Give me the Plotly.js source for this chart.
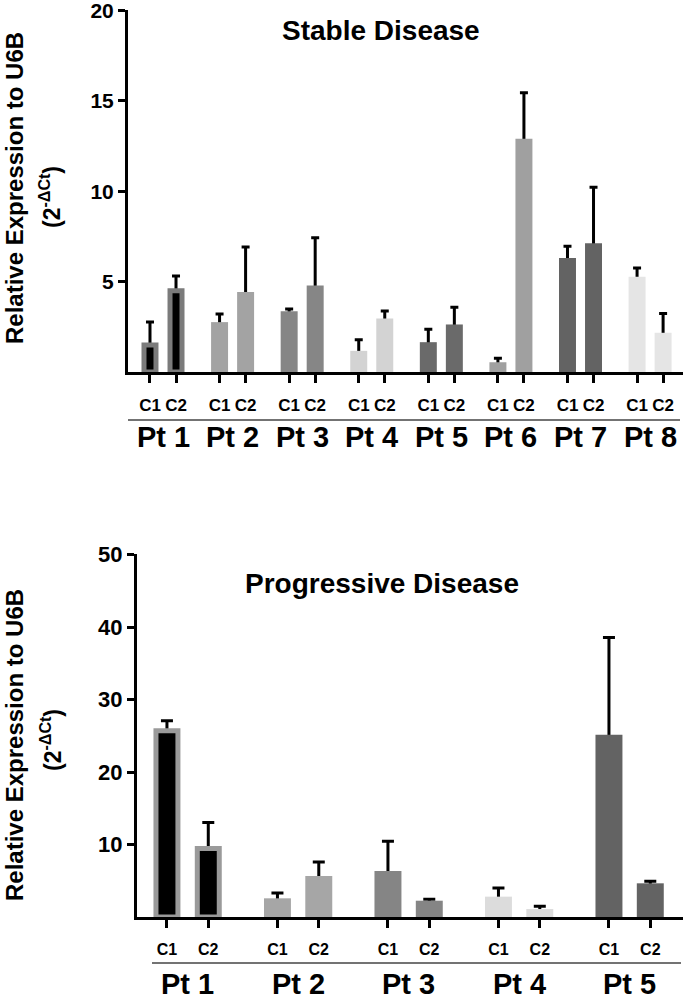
<!DOCTYPE html>
<html>
<head>
<meta charset="utf-8">
<script src="https://cdn.plot.ly/plotly-3.0.1.min.js"></script>
<style>html,body{margin:0;padding:0;background:#fff;}#chart{width:685px;height:1000px;}</style>
</head>
<body>
<div id="chart"></div>
<script>
// ---------- DATA ----------
const cycles = ["C1", "C2"];
const sdPatients = ["Pt 1", "Pt 2", "Pt 3", "Pt 4", "Pt 5", "Pt 6", "Pt 7", "Pt 8"];
const sdC1 = [1.49, 2.76, 3.36, 1.17, 1.65, 0.54, 6.31, 5.27];
const sdC1Err = [1.27, 0.45, 0.13, 0.62, 0.72, 0.22, 0.65, 0.49];
const sdC2 = [4.49, 4.42, 4.78, 2.96, 2.63, 12.90, 7.13, 2.17];
const sdC2Err = [0.82, 2.50, 2.65, 0.42, 0.95, 2.55, 3.09, 1.06];

const pdPatients = ["Pt 1", "Pt 2", "Pt 3", "Pt 4", "Pt 5"];
const pdC1 = [25.7, 2.58, 6.35, 2.81, 25.14];
const pdC1Err = [1.4, 0.72, 4.1, 1.18, 13.45];
const pdC2 = [9.45, 5.66, 2.25, 1.10, 4.65];
const pdC2Err = [3.6, 1.92, 0.2, 0.38, 0.3];

const sdTitle = "Stable Disease";
const pdTitle = "Progressive Disease";
const yTitle1 = "Relative Expression to U6B";
const yTitle2 = "(2<sup>-ΔCt</sup>)";
const sdTicks = [5, 10, 15, 20];
const pdTicks = [10, 20, 30, 40, 50];

// ---------- STYLES ----------
const sdFill = ["#000000", "#a3a3a3", "#868686", "#d3d3d3", "#6a6a6a", "#a0a0a0", "#636363", "#e5e5e5"];
const sdEdge = ["#7b7b7b", null, null, null, null, null, null, null];
const pdFill = ["#000000", "#a6a6a6", "#858585", "#dcdcdc", "#636363"];
const pdEdge = ["#9a9a9a", null, null, null, null];
const FONT = "Liberation Sans, Arial, Helvetica, sans-serif";
const PAIR = 0.374; // offset of C2 relative to C1 within a patient group
const EDGE_PX = 5;

function build(patients, c1, c1e, c2, c2e, fills, edges, barW, edgeW, xa, ya, capW) {
  const xs = [], ys = [], es = [], col = [], lcol = [], lw = [], wid = [], tv = [], tt = [];
  patients.forEach((p, g) => {
    [[c1[g], c1e[g]], [c2[g], c2e[g]]].forEach((pair, c) => {
      const x = g + c * PAIR;
      xs.push(x); ys.push(pair[0]); es.push(pair[1]);
      col.push(fills[g]);
      const hasEdge = !!edges[g];
      lcol.push(hasEdge ? edges[g] : fills[g]);
      lw.push(hasEdge ? EDGE_PX : 0);
      wid.push(hasEdge ? barW - edgeW : barW);
      tv.push(x); tt.push(cycles[c]);
    });
  });
  const errTrace = {
    type: "bar", x: xs, y: ys, width: wid, xaxis: xa, yaxis: ya,
    marker: {color: "rgba(0,0,0,0)", line: {width: 0}},
    error_y: {type: "data", symmetric: false, array: es, arrayminus: ys,
              color: "#000", thickness: 3, width: capW},
    hoverinfo: "skip", showlegend: false
  };
  const barTrace = {
    type: "bar", x: xs, y: ys, width: wid, xaxis: xa, yaxis: ya,
    marker: {color: col, line: {color: lcol, width: lw}},
    showlegend: false
  };
  return {traces: [errTrace, barTrace], tv: tv, tt: tt};
}

const topChart = build(sdPatients, sdC1, sdC1Err, sdC2, sdC2Err, sdFill, sdEdge, 0.244, EDGE_PX / 69.57, "x", "y", 4);
const botChart = build(pdPatients, pdC1, pdC1Err, pdC2, pdC2Err, pdFill, pdEdge, 0.244, EDGE_PX / 110.5, "x2", "y2", 6);

const axLine = {showline: true, linewidth: 3, linecolor: "#000", showgrid: false, zeroline: false,
                ticks: "outside", tickwidth: 3, tickcolor: "#000", fixedrange: true,
                ticklabeloverflow: "allow"};

const layout = {
  width: 685, height: 1000,
  margin: {l: 0, r: 0, t: 0, b: 0},
  paper_bgcolor: "#fff", plot_bgcolor: "#fff",
  barmode: "overlay",
  font: {family: FONT, color: "#000"},
  xaxis: Object.assign({}, axLine, {
    domain: [128 / 685, 683 / 685], anchor: "y",
    range: [-0.316, 7.66], tickvals: topChart.tv, ticktext: topChart.tt, ticklen: 8,
    ticklabelstandoff: 8,
    tickfont: {family: FONT, size: 17, weight: 700, color: "#000"}
  }),
  yaxis: Object.assign({}, axLine, {
    domain: [1 - 372 / 1000, 1 - 10 / 1000], anchor: "x",
    range: [0, 20.03], tickvals: sdTicks, ticktext: sdTicks.map(String), ticklen: 7,
    tickfont: {family: FONT, size: 21, weight: 700, color: "#000"}
  }),
  xaxis2: Object.assign({}, axLine, {
    domain: [137 / 685, 683 / 685], anchor: "y2",
    range: [-0.271, 4.67], tickvals: botChart.tv, ticktext: botChart.tt, ticklen: 8,
    ticklabelstandoff: 8,
    tickfont: {family: FONT, size: 16, weight: 700, color: "#000"}
  }),
  yaxis2: Object.assign({}, axLine, {
    domain: [1 - 917 / 1000, 1 - 554 / 1000], anchor: "x2",
    range: [0, 50.1], tickvals: pdTicks, ticktext: pdTicks.map(String), ticklen: 7,
    tickfont: {family: FONT, size: 22, weight: 700, color: "#000"}
  }),
  shapes: [
    {type: "line", xref: "paper", yref: "paper", x0: 128 / 685, x1: 680 / 685, y0: 1 - 420 / 1000, y1: 1 - 420 / 1000,
     line: {color: "#444", width: 1.5}},
    {type: "line", xref: "paper", yref: "paper", x0: 152 / 685, x1: 681 / 685, y0: 1 - 963 / 1000, y1: 1 - 963 / 1000,
     line: {color: "#444", width: 1.5}}
  ],
  annotations: []
};

const ann = layout.annotations;
sdPatients.forEach((p, g) => ann.push({xref: "x", yref: "paper", x: g + PAIR / 2, y: 1 - 437 / 1000,
  text: p, showarrow: false, xanchor: "center", yanchor: "middle",
  font: {family: FONT, size: 29, weight: 700, color: "#000"}}));
pdPatients.forEach((p, g) => ann.push({xref: "x2", yref: "paper", x: g + PAIR / 2, y: 1 - 984 / 1000,
  text: p, showarrow: false, xanchor: "center", yanchor: "middle",
  font: {family: FONT, size: 29, weight: 700, color: "#000"}}));
ann.push({xref: "paper", yref: "paper", x: 381 / 685, y: 1 - 30 / 1000, text: sdTitle, showarrow: false,
  xanchor: "center", yanchor: "middle", font: {family: FONT, size: 28, weight: 700, color: "#000"}});
ann.push({xref: "paper", yref: "paper", x: 382 / 685, y: 1 - 583 / 1000, text: pdTitle, showarrow: false,
  xanchor: "center", yanchor: "middle", font: {family: FONT, size: 28, weight: 700, color: "#000"}});
[[15, 188, 50, 197], [14, 745, 51, 740]].forEach(pos => {
  ann.push({xref: "paper", yref: "paper", x: pos[0] / 685, y: 1 - pos[1] / 1000, text: yTitle1, textangle: -90,
    showarrow: false, xanchor: "center", yanchor: "middle",
    font: {family: FONT, size: 24, weight: 700, color: "#000"}});
  ann.push({xref: "paper", yref: "paper", x: pos[2] / 685, y: 1 - pos[3] / 1000, text: yTitle2, textangle: -90,
    showarrow: false, xanchor: "center", yanchor: "middle",
    font: {family: FONT, size: 23, weight: 700, color: "#000"}});
});

Plotly.newPlot("chart", topChart.traces.concat(botChart.traces), layout, {displayModeBar: false, staticPlot: true});
</script>
</body>
</html>
